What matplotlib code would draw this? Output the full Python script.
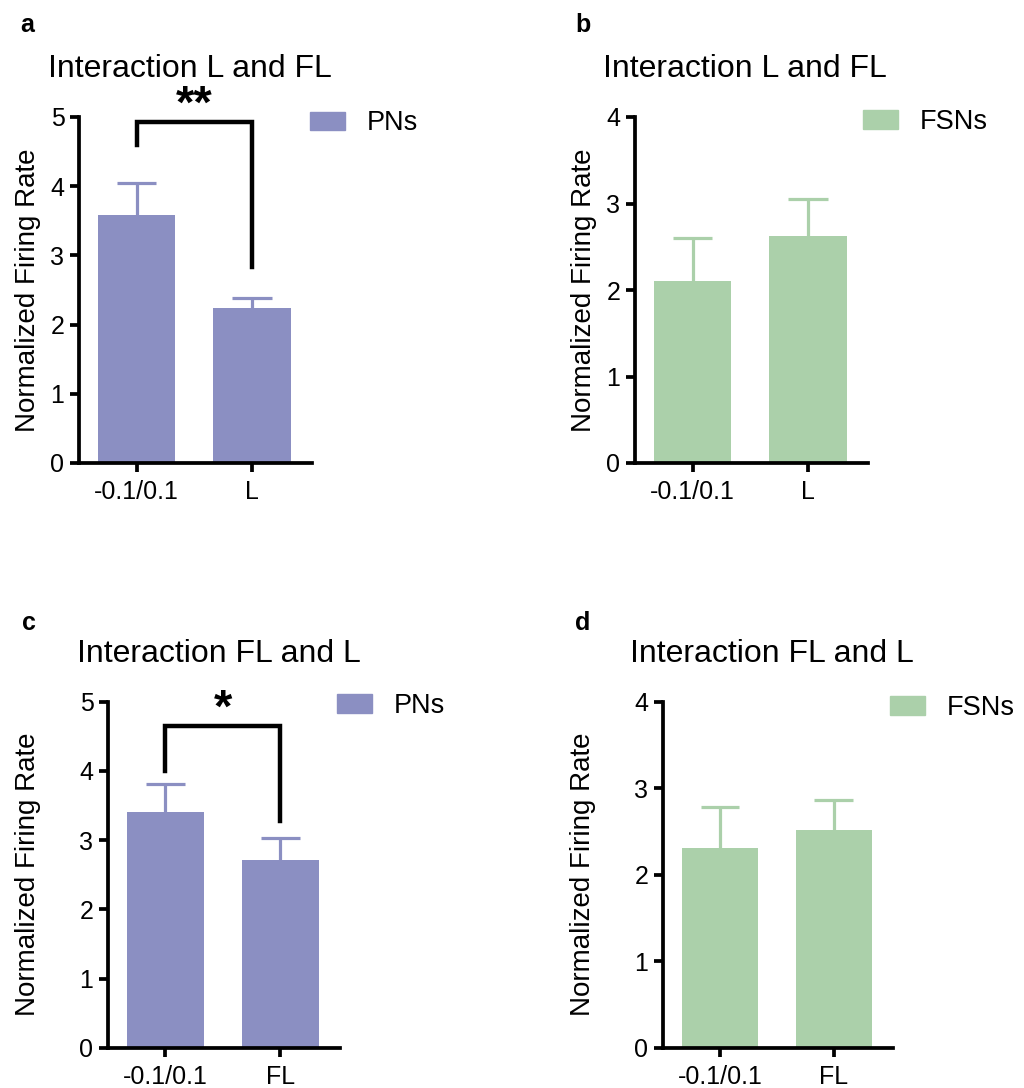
import matplotlib
matplotlib.use('Agg')
from matplotlib import pyplot as plt

plt.rcParams['font.family'] = ['Liberation Sans', 'DejaVu Sans']

purple = '#8b8fc2'
green = '#abd0aa'

# panel a: PNs, interaction L and FL
a_groups = ['-0.1/0.1', 'L']
a_mean = [3.58, 2.24]
a_sem = [0.47, 0.15]

# panel b: FSNs, interaction L and FL
b_groups = ['-0.1/0.1', 'L']
b_mean = [2.10, 2.63]
b_sem = [0.50, 0.42]

# panel c: PNs, interaction FL and L
c_groups = ['-0.1/0.1', 'FL']
c_mean = [3.41, 2.71]
c_sem = [0.40, 0.32]

# panel d: FSNs, interaction FL and L
d_groups = ['-0.1/0.1', 'FL']
d_mean = [2.31, 2.52]
d_sem = [0.47, 0.34]

W, H = 1024, 1088
fig = plt.figure(figsize=(W / 100, H / 100), dpi=100)


def px_axes(left, top, right, bottom):
    return fig.add_axes([left / W, 1 - bottom / H, (right - left) / W, (bottom - top) / H])


def draw_panel(rect, groups, mean, sem, color, ymax, title, letter, title_xy, letter_xy,
               legend_label, legend_xy, label_x):
    ax = px_axes(*rect)
    x = list(range(len(groups)))
    ax.bar(x, mean, width=0.67, color=color, zorder=2)
    # upper error bars only (mean + SEM), Prism style
    tops = [m + s for m, s in zip(mean, sem)]
    ax.vlines(x, mean, tops, color=color, lw=2.3, zorder=1)
    ax.hlines(tops, [i - 0.17 for i in x], [i + 0.17 for i in x], color=color, lw=2.3, zorder=1)
    ax.set_xlim(-0.5, 1.52)
    ax.set_ylim(0, ymax)
    ax.set_yticks(range(ymax + 1))
    ax.set_xticks(x)
    ax.set_xticklabels(groups)
    for s in ['top', 'right']:
        ax.spines[s].set_visible(False)
    for s in ['left', 'bottom']:
        ax.spines[s].set_linewidth(2.7)
        ax.spines[s].set_capstyle('projecting')
    ax.tick_params(axis='both', length=6.5, width=2.7, labelsize=18, colors='black')
    ax.tick_params(axis='y', pad=4)
    ax.tick_params(axis='x', pad=6)
    ax.set_ylabel('Normalized Firing Rate', fontsize=20)
    ax.yaxis.set_label_coords(label_x, 0.5)

    fig.text(title_xy[0] / W, 1 - title_xy[1] / H, title, fontsize=23, va='baseline', ha='left')
    fig.text(letter_xy[0] / W, 1 - letter_xy[1] / H, letter, fontsize=18, fontweight='bold',
             va='baseline', ha='left')

    handle = plt.Rectangle((0, 0), 1, 1, color=color)
    ax.legend([handle], [legend_label], loc='center left',
              bbox_to_anchor=(legend_xy[0] / W, 1 - legend_xy[1] / H),
              bbox_transform=fig.transFigure, frameon=False, fontsize=19.5,
              handlelength=1.3, handleheight=0.65, handletextpad=0.8,
              borderpad=0, borderaxespad=0)
    return ax


def bracket(ax, y_top, y_left, y_right, stars, star_y):
    ax.plot([0, 0, 1, 1], [y_left, y_top, y_top, y_right], color='black', lw=3.2,
            solid_joinstyle='miter', clip_on=False, zorder=3)
    ax.text(0.5, star_y, stars, ha='center', va='center', fontsize=34,
            fontweight='bold', clip_on=False)


ax_a = draw_panel((79, 117, 312, 463), a_groups, a_mean, a_sem, purple, 5,
                  'Interaction L and FL', 'a', (48, 77), (20, 32), 'PNs', (310, 123.5), -0.165)
bracket(ax_a, 4.93, 4.6, 2.83, '**', 5.17)

draw_panel((635, 117, 868, 463), b_groups, b_mean, b_sem, green, 4,
           'Interaction L and FL', 'b', (603, 77), (575, 32), 'FSNs', (863, 122), -0.165)

ax_c = draw_panel((108, 701.7, 340, 1047.7), c_groups, c_mean, c_sem, purple, 5,
                  'Interaction FL and L', 'c', (77, 661.7), (22, 630), 'PNs', (337, 706), -0.29)
bracket(ax_c, 4.65, 4.0, 3.28, '*', 4.88)

draw_panel((663, 701.7, 893, 1047.7), d_groups, d_mean, d_sem, green, 4,
           'Interaction FL and L', 'd', (630, 661.7), (575, 630), 'FSNs', (890, 708), -0.29)

fig.savefig('out.png', dpi=100)
